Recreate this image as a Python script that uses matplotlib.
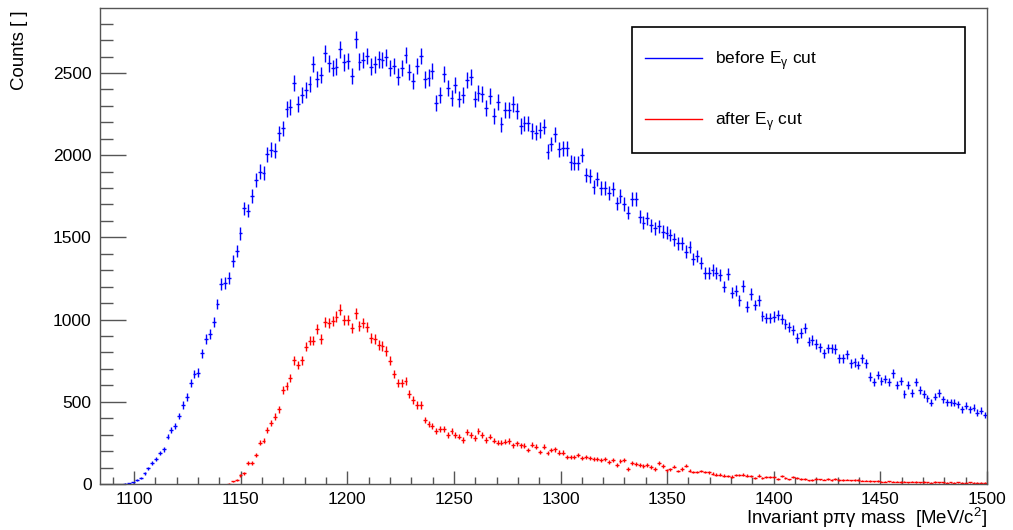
import numpy as np
import matplotlib.pyplot as plt
from matplotlib.lines import Line2D
from matplotlib.patches import Rectangle
from matplotlib.ticker import MultipleLocator

plt.rcParams['font.family'] = ['Liberation Sans', 'DejaVu Sans']
plt.rcParams['mathtext.fontset'] = 'custom'
plt.rcParams['mathtext.rm'] = 'Liberation Sans'

# histogram binning (MeV/c^2)
bin_width = 1.8
first_center_before = 1095.9
first_center_after = 1144.5

# counts per bin, before the E_gamma cut
before_cut = [
    2, 4,
    10, 24, 38, 65, 95, 126, 150, 187, 211, 288, 326, 355, 413, 480, 529, 616,
    669, 677, 795, 880, 910, 987, 1095, 1217, 1221, 1251, 1355, 1418,
    1525, 1677, 1663, 1752, 1849, 1900, 1890, 2005, 2032, 2026, 2133, 2164, 2279,
    2295, 2437, 2311, 2366, 2397, 2431, 2555, 2463, 2488, 2620, 2559, 2529, 2539,
    2644, 2565, 2573, 2482, 2705, 2569, 2579, 2603, 2539, 2553,
    2583, 2579, 2595, 2529, 2543, 2478, 2529, 2609, 2505, 2451,
    2543, 2603, 2461, 2472, 2512, 2315, 2366, 2494, 2411, 2346,
    2427, 2342, 2366, 2457, 2474, 2340, 2380, 2370, 2289, 2362,
    2238, 2322, 2188, 2275, 2275, 2311, 2269, 2178, 2194, 2194,
    2147, 2137, 2153, 2174, 2021, 2068, 2127, 2036, 2042, 2042,
    1957, 1951, 1951,
    2001, 1880, 1873, 1805, 1853, 1802, 1798, 1772, 1796, 1707,
    1752, 1703, 1650, 1732, 1732, 1626, 1589, 1616, 1575, 1555,
    1569, 1535, 1529, 1515, 1488, 1464, 1464, 1413, 1440, 1367,
    1387, 1342, 1282, 1285, 1302, 1285, 1271, 1200, 1277, 1164,
    1176, 1119, 1204, 1079, 1156, 1089, 1119, 1022, 1008, 1008,
    1018, 1028, 1002, 973, 953, 937, 890,
    917, 951, 866, 876, 852, 831, 795, 825, 825, 821,
    765, 765, 789, 734, 740, 724, 765, 734, 653, 622,
    663, 627, 637, 619, 673, 602, 627, 546, 602, 552,
    622, 572, 546, 521, 495, 531, 552, 515, 497, 497,
    495, 485, 454, 476, 454, 464, 434, 446, 420,
]

# counts per bin, after the E_gamma cut
after_cut = [
    3, 16, 24, 52, 65, 126, 126, 176, 251, 264, 328, 369, 410, 454, 572, 596,
    643, 754, 724, 754, 835, 872, 872, 941, 880, 987, 981, 990, 1018,
    1060, 998, 998, 951, 1038, 963, 977, 957, 886, 880,
    846, 839, 809, 750, 669, 616, 616, 628, 547, 511,
    481, 481, 389, 365, 353, 324, 333, 335, 298, 324,
    298, 288, 268, 316, 296, 280, 320, 296, 268, 288,
    264, 251, 251, 257, 262, 235, 247, 235, 233, 207,
    239, 227, 195, 227, 187, 207, 211, 190, 190, 162,
    162, 162, 176,
    160, 162, 160, 152, 150, 144, 152, 136, 144, 117,
    138, 144, 91, 126, 120, 117, 109, 115, 103, 91,
    128, 109, 85, 89, 105, 79, 91, 111, 81, 73,
    73, 79, 73, 71, 63, 57, 57, 51, 49, 45,
    55, 55, 57, 51, 47, 36, 51, 34, 40, 44,
    42, 30, 47, 36, 28, 40, 34, 30, 30, 22,
    24, 30,
    28, 27, 30, 25, 29, 26, 24, 27, 22, 25,
    23, 20, 21, 18, 16, 19, 15, 14, 16, 13,
    15, 12, 14, 11, 13, 12, 10, 12, 11, 9,
    12, 10, 11, 8, 10, 9, 11, 8, 9, 10,
    8, 9, 8, 7,
]

y_before = np.array(before_cut, dtype=float)
y_after = np.array(after_cut, dtype=float)
x_before = first_center_before + bin_width * np.arange(len(y_before))
x_after = first_center_after + bin_width * np.arange(len(y_after))

fig = plt.figure(figsize=(10.13, 5.30), dpi=100)
ax = fig.add_axes([0.0987, 0.0868, 0.8756, 0.8981])

ax.errorbar(x_before, y_before, xerr=bin_width / 2, yerr=np.sqrt(y_before),
            fmt='none', ecolor='#0000ff', elinewidth=1.0, capsize=0)
ax.errorbar(x_after, y_after, xerr=bin_width / 2, yerr=np.sqrt(y_after),
            fmt='none', ecolor='#ff0000', elinewidth=1.0, capsize=0)

ax.set_xlim(1084, 1500)
ax.set_ylim(0, 2895)

ax.xaxis.set_major_locator(MultipleLocator(50))
ax.xaxis.set_minor_locator(MultipleLocator(10))
ax.yaxis.set_major_locator(MultipleLocator(500))
ax.yaxis.set_minor_locator(MultipleLocator(100))

frame_col = '#555555'
for s in ax.spines.values():
    s.set_color(frame_col)
    s.set_linewidth(1.0)
ax.tick_params(axis='both', which='both', direction='in', colors=frame_col,
               labelcolor='black', labelsize=12.5, width=1.0)
ax.tick_params(axis='x', which='major', length=9.5, pad=6)
ax.tick_params(axis='x', which='minor', length=5)
ax.tick_params(axis='y', which='major', length=19, pad=6)
ax.tick_params(axis='y', which='minor', length=9.5)

ax.set_xlabel('Invariant p\u03c0\u03b3 mass  [MeV/c$^\\mathregular{2}$]',
              fontsize=13.4, loc='right')
ax.xaxis.set_label_coords(1.0, -0.045)
ax.set_ylabel('Counts [ ]', fontsize=13.4, loc='top')
ax.yaxis.set_label_coords(-0.081, 0.996)

# legend box (ROOT TLegend style), drawn under the legend entries
ax.add_patch(Rectangle((0.6239, 0.7113), 0.3287, 0.2377,
                       transform=fig.transFigure, facecolor='white',
                       edgecolor='black', linewidth=1.2, zorder=4,
                       clip_on=False))
handles = [Line2D([], [], color='#0000ff', lw=1.0),
           Line2D([], [], color='#ff0000', lw=1.0)]
labels = ['before E$_\\mathregular{\u03b3}$ cut', 'after E$_\\mathregular{\u03b3}$ cut']
leg = ax.legend(handles, labels, loc='upper left',
                bbox_to_anchor=(0.6367, 0.908),
                bbox_transform=fig.transFigure, frameon=False,
                fontsize=12.5, handlelength=3.28, handletextpad=0.75,
                labelspacing=2.2, borderpad=0, borderaxespad=0)
leg.set_zorder(6)

fig.savefig('out.png', dpi=100)
